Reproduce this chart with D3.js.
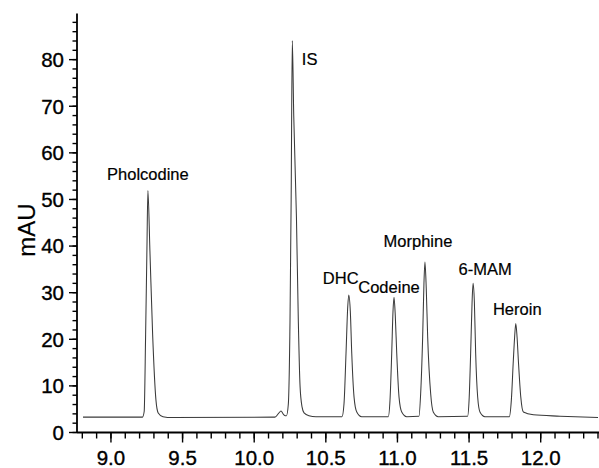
<!DOCTYPE html>
<html>
<head>
<meta charset="utf-8">
<script src="https://cdn.jsdelivr.net/npm/d3@7/dist/d3.min.js"></script>
<style>
    body { margin: 0; background: #fff; }
    svg { display: block; }
    .trace { fill: none; stroke: #3a3a3a; stroke-width: 1.05; }
    .axis-line { stroke: #000; stroke-width: 1.8; }
    .tick-line { stroke: #000; stroke-width: 1.4; }
    .tick-label { font-family: "Liberation Sans", Arial, sans-serif; font-size: 20.5px; fill: #000; stroke: #000; stroke-width: 0.35px; }
    .peak-label { font-family: "Liberation Sans", Arial, sans-serif; font-size: 16.5px; fill: #000; stroke: #000; stroke-width: 0.2px; }
    .axis-title { font-family: "Liberation Sans", Arial, sans-serif; font-size: 24px; fill: #000; stroke: #000; stroke-width: 0.2px; }
</style>
</head>
<body>
<div id="chart"></div>
<script>
// Chromatogram trace (retention time in min, absorbance in mAU)
const traceTime = [
    8.805, 9.220, 9.232, 9.242, 9.251, 9.258, 9.272, 9.291, 9.314, 9.330, 9.363, 9.426,
    10.145, 10.170, 10.187, 10.204, 10.218,
    10.225, 10.238, 10.250, 10.258, 10.266, 10.276, 10.295, 10.308, 10.320, 10.334, 10.348, 10.382, 10.431,
    10.613, 10.627, 10.641, 10.653, 10.660, 10.671, 10.681, 10.697, 10.716, 10.750,
    10.936, 10.948, 10.960, 10.969, 10.976, 10.985, 10.995, 11.011, 11.030, 11.065,
    11.150, 11.162, 11.176, 11.185, 11.192, 11.201, 11.211, 11.232, 11.250, 11.285,
    11.490, 11.500, 11.511, 11.521, 11.528, 11.537, 11.546, 11.560, 11.576, 11.611,
    11.781, 11.795, 11.809, 11.818, 11.826, 11.835, 11.844, 11.861, 11.879, 11.949, 12.135, 12.400
];
const traceMAU = [
    3.3, 3.3, 4.5, 21, 39, 51.9, 39, 21, 7, 4.2, 3.4, 3.2,
    3.3, 4.1, 4.6, 3.9, 3.6,
    3.6, 6, 24, 50, 84.1, 68, 46, 24, 10, 5.5, 4.2, 3.6, 3.4,
    3.4, 6.2, 17, 27, 29.5, 26, 17, 7.6, 4.4, 3.4,
    3.4, 6.9, 17, 26, 29.0, 25, 17, 7.6, 4.4, 3.4,
    3.5, 8.3, 20.5, 32, 36.6, 31, 20.5, 8.3, 4.4, 3.4,
    3.5, 6.9, 17, 28, 32.0, 28, 17, 7.6, 4.4, 3.4,
    3.4, 6.9, 15.5, 20.5, 23.4, 20.5, 15.5, 7.6, 4.4, 3.8, 3.5, 3.2
];

// Peak names with apex retention time and height
const peakNames = ['Pholcodine', 'IS', 'DHC', 'Codeine', 'Morphine', '6-MAM', 'Heroin'];
const peakTime = [9.258, 10.266, 10.660, 10.976, 11.192, 11.528, 11.826];
const peakMAU = [51.9, 84.1, 29.5, 29.0, 36.6, 32.0, 23.4];

// Axis ticks
const yMajorTicks = [0, 10, 20, 30, 40, 50, 60, 70, 80];
const xMajorTicks = [9.0, 9.5, 10.0, 10.5, 11.0, 11.5, 12.0];

const width = 599;
const height = 468;
const plotLeft = 77, plotRight = 599, plotTop = 13.5, plotBottom = 432.5;

// label placement relative to each apex (px): dx, dy, anchor
const labelLayout = [
    { dx: 0, dy: -11, anchor: 'middle' },
    { dx: 9.5, dy: 24, anchor: 'start' },
    { dx: -8, dy: -11, anchor: 'middle' },
    { dx: -5, dy: -4, anchor: 'middle' },
    { dx: -7, dy: -15, anchor: 'middle' },
    { dx: 12, dy: -8.5, anchor: 'middle' },
    { dx: 1.5, dy: -8.5, anchor: 'middle' }
];

const svg = d3.select('#chart')
    .append('svg')
    .attr('width', width)
    .attr('height', height);

svg.append('rect').attr('width', width).attr('height', height).attr('fill', '#fff');

const x = d3.scaleLinear().domain([8.763, 12.407]).range([plotLeft, plotRight]);
const y = d3.scaleLinear().domain([0, 89.9]).range([plotBottom, plotTop]);

// Trace
const points = traceTime.map((t, i) => [t, traceMAU[i]]);
const line = d3.line()
    .x(d => x(d[0]))
    .y(d => y(d[1]))
    .curve(d3.curveMonotoneX);

svg.append('path')
    .datum(points)
    .attr('class', 'trace')
    .attr('d', line);

// Y axis
svg.append('line').attr('class', 'axis-line')
    .attr('x1', plotLeft).attr('x2', plotLeft).attr('y1', plotTop).attr('y2', plotBottom);

const yMinor = d3.range(0, 90, 2);
svg.selectAll('.y-minor').data(yMinor).enter()
    .append('line').attr('class', 'tick-line')
    .attr('x1', plotLeft - 4.5).attr('x2', plotLeft)
    .attr('y1', d => y(d)).attr('y2', d => y(d));

svg.selectAll('.y-major').data(yMajorTicks).enter()
    .append('line').attr('class', 'tick-line')
    .attr('x1', plotLeft - 8).attr('x2', plotLeft)
    .attr('y1', d => y(d)).attr('y2', d => y(d));

svg.selectAll('.y-label').data(yMajorTicks).enter()
    .append('text').attr('class', 'tick-label')
    .attr('x', plotLeft - 13)
    .attr('y', d => y(d))
    .attr('dy', '0.36em')
    .attr('text-anchor', 'end')
    .text(d => d);

svg.append('text').attr('class', 'axis-title')
    .attr('transform', `translate(35,230) rotate(-90)`)
    .attr('text-anchor', 'middle')
    .text('mAU');

// X axis
svg.append('line').attr('class', 'axis-line')
    .attr('x1', plotLeft).attr('x2', plotRight).attr('y1', plotBottom).attr('y2', plotBottom);

const xMinor = d3.range(88, 125).map(d => d / 10);
svg.selectAll('.x-minor').data(xMinor).enter()
    .append('line').attr('class', 'tick-line')
    .attr('x1', d => x(d)).attr('x2', d => x(d))
    .attr('y1', plotBottom).attr('y2', plotBottom + 6);

svg.selectAll('.x-major').data(xMajorTicks).enter()
    .append('line').attr('class', 'tick-line')
    .attr('x1', d => x(d)).attr('x2', d => x(d))
    .attr('y1', plotBottom).attr('y2', plotBottom + 10);

svg.selectAll('.x-label').data(xMajorTicks).enter()
    .append('text').attr('class', 'tick-label')
    .attr('x', d => x(d))
    .attr('y', 465)
    .attr('text-anchor', 'middle')
    .text(d => d.toFixed(1));

// Peak labels
svg.selectAll('.peak-label').data(peakNames).enter()
    .append('text').attr('class', 'peak-label')
    .attr('x', (d, i) => x(peakTime[i]) + labelLayout[i].dx)
    .attr('y', (d, i) => y(peakMAU[i]) + labelLayout[i].dy)
    .attr('text-anchor', (d, i) => labelLayout[i].anchor)
    .text(d => d);
</script>
</body>
</html>
